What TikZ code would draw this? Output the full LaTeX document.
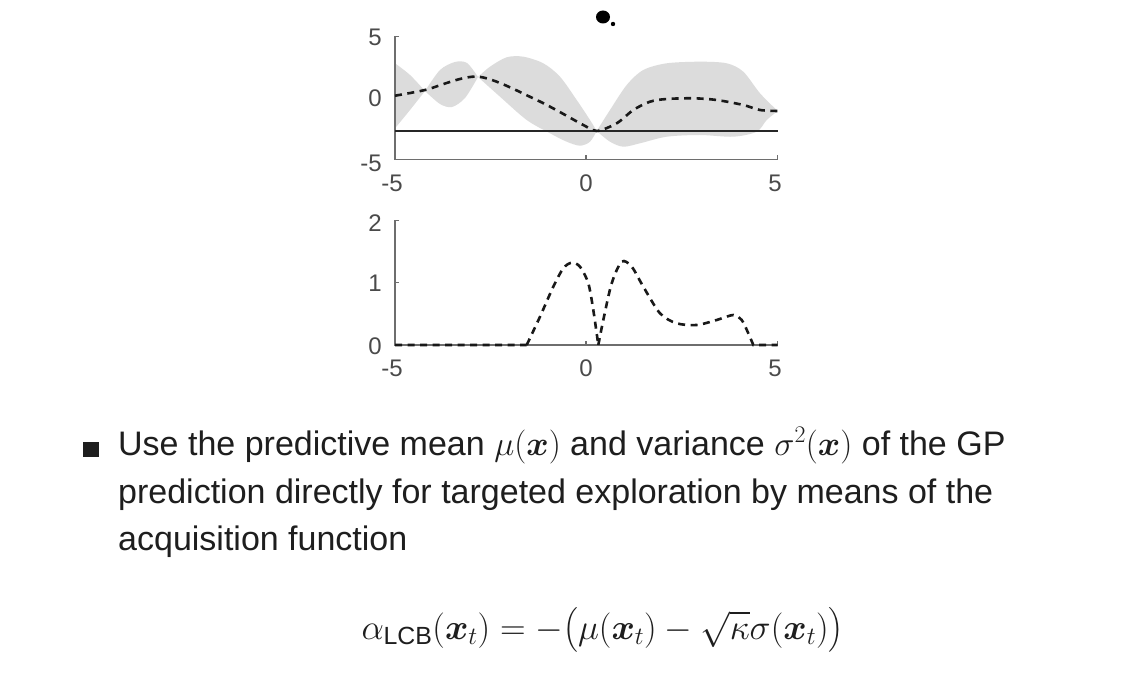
\RequirePackage{fix-cm}
\documentclass[tikz,border=0pt]{standalone}
\usepackage{amsmath,bm}
\usepackage[no-math]{fontspec}
\setmainfont{Liberation Sans}
\definecolor{bandgray}{HTML}{DCDCDC}
\definecolor{axisgray}{HTML}{6E6E6E}
\definecolor{labelgray}{HTML}{4A4A4A}
\definecolor{textdark}{HTML}{1E1E1E}
\tikzset{
  band/.style={fill=bandgray},
  meancurve/.style={black!90, line width=2.6pt, dash pattern=on 7pt off 5.5pt},
  axisline/.style={axisgray, line width=1.5pt},
  ticklabel/.style={labelgray, font=\fontsize{24}{24}\selectfont, inner sep=0pt},
  bodytext/.style={textdark, font=\fontsize{34}{40}\selectfont, inner sep=0pt, anchor=base west},
}
\begin{document}
\begin{tikzpicture}[x=1pt,y=-1pt]
\useasboundingbox[fill=white] (0,0) rectangle (1132,692);

% ---------- top plot ----------
% band segments
\fill[band] plot[smooth] coordinates {(395,63.3) (410,75) (425,91)}
  -- plot[smooth] coordinates {(425,91) (410,110) (395,128.3)} -- cycle;
\fill[band] plot[smooth] coordinates {(425,91) (440,70) (455,62) (467,63) (478,77)}
  -- plot[smooth] coordinates {(478,77) (465,98) (452,107) (440,104) (425,91)} -- cycle;
\fill[band] plot[smooth] coordinates {(478,77) (490,66.7) (506.7,57.3) (523.3,56.7) (543.3,63.3) (560,76.7) (576.7,100) (590,120) (596.7,131)}
  -- plot[smooth] coordinates {(596.7,131) (590,141.7) (580,145.7) (566.7,141.7) (550,133.3) (526.7,120) (500,96.7) (478,77)} -- cycle;
\fill[band] plot[smooth] coordinates {(596.7,131) (610,110) (626.7,85) (643.3,70) (666.7,63.3) (700,61.7) (726.7,63.3) (743.3,71.7) (760,93.3) (777.7,111)}
  -- plot[smooth] coordinates {(777.7,111) (766.7,120) (756.7,131.7) (733.3,136.7) (700,135) (666.7,136.7) (640,143.3) (623.3,146.7) (610,141.7) (596.7,131)} -- cycle;

% axes
\coordinate (tyt) at (395,36.7);
\coordinate (tor) at (395,159.3);
\coordinate (txe) at (777.7,159.3);
\draw[axisline] (tyt) ++(4,0) -- (tyt) -- (tor) -- (txe) -- ++(0,-4);
\draw[axisline] (586,159.3) -- ++(0,-4);

% threshold line
\coordinate (thl) at (395,131);
\coordinate (thr) at (777.7,131);
\draw[line width=2.8pt, black!85] (thl) -- (thr);

% mean
\draw[meancurve] plot[smooth] coordinates {(395,95.7) (425,90) (478.3,76.7) (536.7,100) (583.3,125) (596.7,131) (616.7,123.3) (633.3,110) (650,101.7) (666.7,99) (693.3,98.3) (716.7,100) (743.3,105) (760,110) (777.7,111)};

% tick labels
\node[ticklabel, anchor=east] (ty5) at (382,37) {5};
\node[ticklabel, anchor=east] (ty0) at (382,98) {0};
\node[ticklabel, anchor=east] (tym) at (382,163) {-5};
\node[ticklabel, anchor=north] (txm) at (392,175) {-5};
\node[ticklabel, anchor=north] (tx0) at (586,175) {0};
\node[ticklabel, anchor=north] (tx5) at (775,175) {5};

% blob
\fill[black] (603,17) ellipse (7 and 6.5);
\fill[black] (613,24) circle (2.2);

% ---------- bottom plot ----------
\coordinate (byt) at (395,220.7);
\coordinate (bor) at (395,345);
\coordinate (bxe) at (777.7,345);
\draw[axisline] (byt) ++(4,0) -- (byt) -- (bor) -- (bxe) -- ++(0,-4);
\draw[axisline] (395,282.7) -- ++(4,0);
\draw[axisline] (586,345) -- ++(0,-4);

\draw[meancurve] (395,345) -- (526.7,345)
  plot[smooth] coordinates {(526.7,345) (540,316.7) (553.3,286.7) (563.3,268.3) (571.7,262.7) (580,266.7) (588.3,283.3) (593.3,310) (598.3,345)};
\draw[meancurve] plot[smooth] coordinates {(598.3,345) (603.3,320) (611.7,283.3) (621.7,261.7) (631.7,266.7) (643.3,286.7) (660,313.3) (676.7,323.3) (696.7,325) (716.7,320) (733.3,315) (741.7,320) (748.3,333.3) (753.3,345)} -- (777.7,345);

\node[ticklabel, anchor=east] (by2) at (382,223) {2};
\node[ticklabel, anchor=east] (by1) at (382,283) {1};
\node[ticklabel, anchor=east] (by0) at (382,346) {0};
\node[ticklabel, anchor=north] (bxm) at (392,360) {-5};
\node[ticklabel, anchor=north] (bx0) at (586,360) {0};
\node[ticklabel, anchor=north] (bx5) at (775,360) {5};

% ---------- text ----------
\fill[textdark] (83,442) rectangle (99,457);
\node[bodytext] (l1) at (118,455) {Use the predictive mean $\mu(\bm{x})$ and variance $\sigma^2(\bm{x})$ of the GP};
\node[bodytext] (l2) at (118,503) {prediction directly for targeted exploration by means of the};
\node[bodytext] (l3) at (118,550) {acquisition function};

\node[textdark, font=\fontsize{35.5}{40}\selectfont, inner sep=0pt, anchor=base] (eq) at (602.5,639)
  {$\alpha_{\text{LCB}}(\bm{x}_t) = -\bigl(\mu(\bm{x}_t) - \sqrt{\kappa}\sigma(\bm{x}_t)\bigr)$};
\end{tikzpicture}
\end{document}
